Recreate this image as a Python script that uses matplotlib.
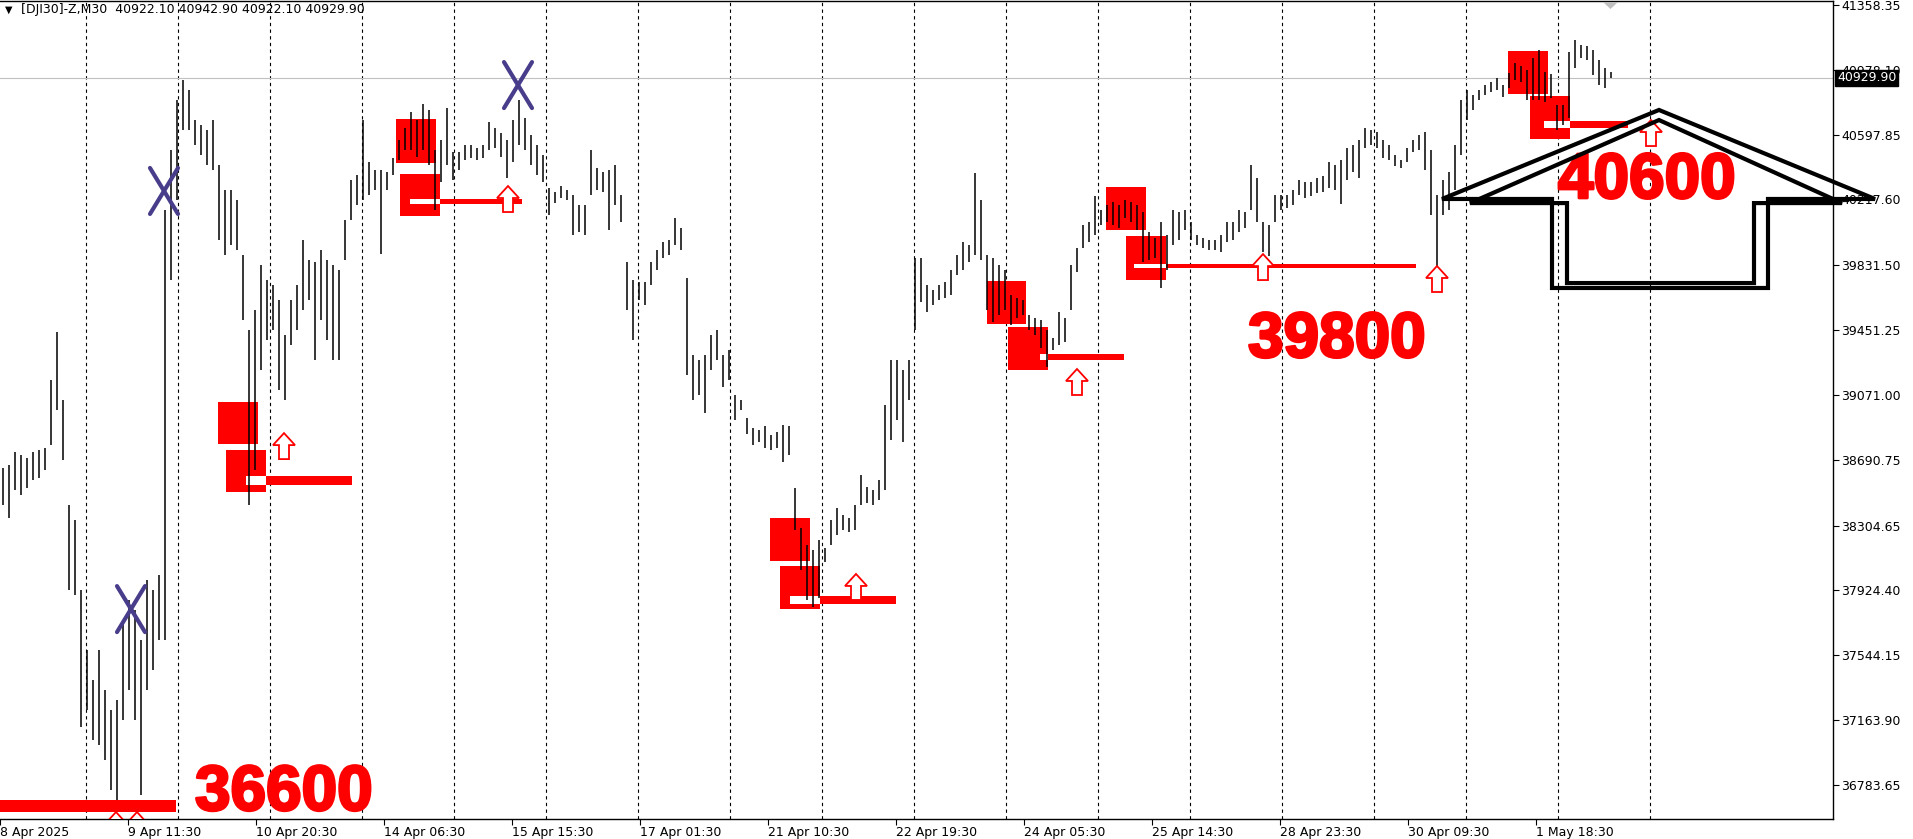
import matplotlib
matplotlib.use("Agg")
import matplotlib.pyplot as plt
import matplotlib.patheffects as pe
import matplotlib.transforms as mtransforms
from matplotlib.patches import Rectangle, Polygon

W, H, DPI = 1913, 839, 100

# DJI30 M30 bars, grouped by 3 (high / low per group)
highs = [38642, 38660, 38736, 38719, 38701, 38736, 38748, 38760, 39158, 39440,
         39041, 38426, 38337, 37927, 37575, 37399, 37575, 37340, 37223, 37282,
         37751, 37868, 37810, 37634, 37985, 37927, 38015, 40155, 40507, 40800,
         40918, 40859, 40683, 40654, 40625, 40683, 40419, 40273, 40273, 40214,
         39891, 39452, 39569, 39833, 39745, 39716, 39628, 39422, 39628, 39716,
         39979, 39862, 39850, 39921, 39862, 39833, 39803, 40097, 40331, 40361,
         40683, 40437, 40390, 40390, 40378, 40460, 40566, 40636, 40730, 40683,
         40777, 40742, 40507, 40566, 40754, 40496, 40496, 40537, 40537, 40519,
         40537, 40671, 40636, 40607, 40566, 40683, 40800, 40695, 40595, 40537,
         40478, 40284, 40261, 40296, 40273, 40243, 40185, 40185, 40507, 40402,
         40378, 40390, 40419, 40243, 39850, 39745, 39733, 39733, 39850, 39921,
         39968, 39979, 40108, 40050, 39757, 39305, 39276, 39305, 39422, 39452,
         39305, 39334, 39070, 39041, 38935, 38877, 38865, 38889, 38836, 38853,
         38894, 38889, 38525, 38290, 38191, 38161, 38220, 38173, 38337, 38408,
         38367, 38349, 38426, 38601, 38531, 38513, 38572, 39012, 39276, 39276,
         39217, 39276, 39874, 39874, 39716, 39686, 39716, 39733, 39803, 39891,
         39968, 39950, 40372, 40214, 39891, 39874, 39833, 39803, 39657, 39639,
         39628, 39540, 39522, 39510, 39452, 39405, 39557, 39522, 39833, 39932,
         40067, 40085, 40237, 40155, 40185, 40202, 40185, 40214, 40202, 40185,
         40144, 40026, 39991, 40085, 40009, 40155, 40144, 40155, 40085, 40009,
         39991, 39979, 39979, 40009, 40085, 40085, 40155, 40144, 40419, 40343,
         40085, 40067, 40243, 40243, 40243, 40273, 40331, 40320, 40320, 40343,
         40355, 40437, 40419, 40449, 40519, 40537, 40566, 40636, 40625, 40613,
         40566, 40537, 40478, 40449, 40519, 40566, 40595, 40613, 40507, 40243,
         40331, 40378, 40537, 40800, 40859, 40830, 40859, 40888, 40906, 40930,
         40888, 40959, 41018, 41000, 40976, 41047, 41094, 40965, 40953, 40771,
         40771, 41082, 41152, 41123, 41117, 41094, 41035, 40988, 40965]
lows = [38426, 38349, 38513, 38484, 38525, 38572, 38584, 38631, 38777, 38982,
        38689, 37927, 37898, 37123, 37223, 37047, 37018, 36930, 36754, 36695,
        37164, 37340, 37164, 36724, 37340, 37458, 37634, 37634, 39745, 40214,
        40625, 40625, 40537, 40478, 40419, 40390, 39979, 39891, 39950, 39921,
        39510, 38426, 38631, 39217, 39393, 39452, 39100, 39041, 39364, 39452,
        39569, 39628, 39276, 39510, 39393, 39276, 39276, 39862, 40097, 40185,
        40214, 40243, 40273, 39897, 40273, 40361, 40449, 40507, 40507, 40466,
        40507, 40419, 40155, 40320, 40419, 40331, 40390, 40449, 40460, 40449,
        40460, 40507, 40519, 40466, 40343, 40437, 40537, 40507, 40419, 40361,
        40320, 40126, 40196, 40226, 40214, 40009, 40026, 40009, 40243, 40273,
        40261, 40038, 40185, 40085, 39569, 39393, 39628, 39598, 39716, 39803,
        39874, 39891, 39950, 39921, 39188, 39041, 39070, 38965, 39217, 39276,
        39117, 39158, 38924, 38982, 38842, 38777, 38795, 38760, 38748, 38760,
        38677, 38719, 38279, 38044, 37868, 37827, 37880, 38091, 38191, 38249,
        38279, 38267, 38279, 38426, 38437, 38426, 38455, 38513, 38806, 38924,
        38795, 39041, 39452, 39616, 39557, 39598, 39628, 39639, 39657, 39774,
        39803, 39850, 39891, 39862, 39569, 39499, 39540, 39569, 39481, 39522,
        39540, 39452, 39422, 39346, 39235, 39334, 39364, 39381, 39569, 39792,
        39932, 39968, 40009, 40067, 40085, 40067, 40050, 40108, 40085, 40038,
        39850, 39862, 39874, 39698, 39803, 39950, 39979, 40038, 39979, 39950,
        39932, 39921, 39921, 39909, 39968, 39979, 40026, 40050, 40155, 40085,
        39909, 39886, 40085, 40155, 40167, 40185, 40243, 40226, 40237, 40255,
        40261, 40284, 40273, 40191, 40331, 40378, 40343, 40519, 40537, 40519,
        40460, 40449, 40413, 40402, 40437, 40496, 40507, 40390, 40126, 39733,
        40126, 40155, 40273, 40478, 40683, 40742, 40800, 40830, 40847, 40859,
        40818, 40871, 40918, 40906, 40800, 40800, 40800, 40789, 40812, 40625,
        40654, 40695, 40988, 41047, 41035, 40947, 40888, 40871, 40930]
last_price = 40929.90

# x axis is in M30 bar slots
time_labels = ["8 Apr 2025", "9 Apr 11:30", "10 Apr 20:30", "14 Apr 06:30", "15 Apr 15:30",
               "17 Apr 01:30", "21 Apr 10:30", "22 Apr 19:30", "24 Apr 05:30", "25 Apr 14:30",
               "28 Apr 23:30", "30 Apr 09:30", "1 May 18:30"]
time_pos = [0, 64, 128, 192, 256, 320, 384, 448, 512, 576, 640, 704, 768]
day_seps = [43.2, 89.2, 135.2, 181.2, 227.2, 273.2, 319.2, 365.2, 411.2,
            457.2, 503.2, 549.2, 595.2, 641.2, 687.2, 733.2, 779.2, 825.2]
price_ticks = [41358.35, 40978.10, 40597.85, 40217.60, 39831.50, 39451.25, 39071.00,
               38690.75, 38304.65, 37924.40, 37544.15, 37163.90, 36783.65]

# supply/demand boxes: x0, x1, top, bottom
zone_x0 = [109, 113, 198, 200, 385, 390, 493.5, 504, 553, 563, 754, 765]
zone_x1 = [129, 133, 218, 220, 405, 410, 513, 524, 573, 583, 774, 785]
zone_top = [39029, 38748, 40689, 40366, 38349, 38067, 39739, 39469, 40290, 40003, 41088, 40824]
zone_bot = [38783, 38501, 40431, 40120, 38097, 37815, 39487, 39217, 40038, 39745, 40836, 40572]

# level lines: start, end of white part, end, top, bottom
lvl_start = [123, 205, 395, 520, 567, 772, 0]
lvl_split = [133, 220, 410, 524, 583, 785, 0]
lvl_end = [176, 261, 448, 562, 708, 814, 88]
lvl_top = [38595, 40222, 37891, 39311, 39839, 40677, 36695]
lvl_bot = [38543, 40191, 37845, 39276, 39815, 40636, 36625]

arrow_x = [142, 254, 428, 538.5, 631.5, 718.5, 825.5, 58, 68.5]
arrow_top = [38847, 40296, 38021, 39223, 39897, 39827, 40683, 36625, 36625]

cross_x = [82, 65.5, 259]
cross_y = [40267, 37815, 40888]

big_text = ["36600", "39800", "40600"]
big_text_x = [97.5, 624, 779]
big_text_y = [36636, 39293, 40226]

outer_x = [721, 829.5, 937.5, 884, 884, 776, 776]
outer_y = [40220, 40742, 40220, 40220, 39698, 39698, 40220]
inner_x = [735, 829.5, 921, 877, 877, 783.5, 783.5]
inner_y = [40196, 40683, 40196, 40196, 39727, 39727, 40196]

Y_TOP, Y_BOT = 41381, 36584
X_MAX = 916.5
PX_X = 0.5                                   # data x per pixel
PX_Y = (Y_TOP - Y_BOT) / 818.0               # price per pixel

fig = plt.figure(figsize=(W / DPI, H / DPI), dpi=DPI)
ax = fig.add_axes([0, 20 / H, 1833 / W, 818 / H])
ax.set_xlim(0, X_MAX)
ax.set_ylim(Y_BOT, Y_TOP)

for s in ["left"]:
    ax.spines[s].set_visible(False)
for s in ["top", "right", "bottom"]:
    ax.spines[s].set_linewidth(1.0)

# day separators
for s in day_seps:
    ax.axvline(s, color="black", lw=0.8, ls=(0, (3, 3)), zorder=0.5)

ax.axhline(last_price, color="#C0C0C0", lw=0.8, zorder=0.6)

# zones and levels
for x0, x1, t, b in zip(zone_x0, zone_x1, zone_top, zone_bot):
    ax.add_patch(Rectangle((x0, b), x1 - x0, t - b, color="#FF0000", lw=0, zorder=1))
for a, s, e, t, b in zip(lvl_start, lvl_split, lvl_end, lvl_top, lvl_bot):
    if s > a:
        ax.add_patch(Rectangle((a, b), s - a, t - b, color="white", lw=0, zorder=1.1))
    ax.add_patch(Rectangle((s, b), e - s, t - b, color="#FF0000", lw=0, zorder=1.1))

# bars
bar_x = [1.5 + 3 * i for i in range(len(highs))]
ax.vlines(bar_x, lows, highs, color="black", lw=1.1, zorder=2)

# hollow up arrows
dxs = [0, 11, 5, 5, -5, -5, -11]
dys = [0, 12, 12, 26, 26, 12, 12]
for cx, top in zip(arrow_x, arrow_top):
    pts = [(cx + a * PX_X, top - b * PX_Y) for a, b in zip(dxs, dys)]
    ax.add_patch(Polygon(pts, closed=True, fc="white", ec="#FF0000", lw=1.3, zorder=3))

# crosses
for cx, cy in zip(cross_x, cross_y):
    hx, hy = 14 * PX_X, 23 * PX_Y
    ax.plot([cx - hx, cx + hx], [cy + hy, cy - hy], color="#483D8B", lw=3, zorder=4,
            solid_capstyle="round")
    ax.plot([cx - hx, cx + hx], [cy - hy, cy + hy], color="#483D8B", lw=3, zorder=4,
            solid_capstyle="round")

# big level text
for t, x, y in zip(big_text, big_text_x, big_text_y):
    ax.text(x, y, t, color="#FF0000", fontsize=46, fontweight="bold",
            family="Liberation Sans", ha="left", va="baseline", zorder=5,
            path_effects=[pe.withStroke(linewidth=2, foreground="#FF0000")])

# big outlined arrow
ax.add_patch(Polygon(list(zip(outer_x, outer_y)), closed=True, fill=False, ec="black",
                     lw=3, zorder=6, clip_on=False, joinstyle="miter"))
ax.add_patch(Polygon(list(zip(inner_x, inner_y)), closed=True, fill=False, ec="black",
                     lw=3, zorder=6, clip_on=False, joinstyle="miter"))

# axes ticks
ax.yaxis.tick_right()
ax.set_yticks(price_ticks)
ax.set_yticklabels([f"{v:.2f}" for v in price_ticks])
ax.tick_params(axis="y", direction="out", length=4, width=0.8, labelsize=9, pad=2)
ax.set_xticks(time_pos)
ax.set_xticklabels(time_labels)
ax.tick_params(axis="x", direction="out", length=4, width=0.8, labelsize=9, pad=1)
for lbl in ax.get_xticklabels():
    lbl.set_ha("left")

# current price box
tr = mtransforms.blended_transform_factory(ax.transAxes, ax.transData)
ax.text(1 + 4 / 1833, last_price, f"{last_price:.2f}", transform=tr, color="white",
        fontsize=9, ha="left", va="center", clip_on=False, zorder=7,
        bbox=dict(boxstyle="square,pad=0.15", fc="black", ec="black"))

# header
fig.text(5 / W, 1 - 10 / H, "\u25bc", fontsize=7, va="center", ha="left")
fig.text(21 / W, 1 - 10 / H, "[DJI30]-Z,M30  40922.10 40942.90 40922.10 40929.90",
         fontsize=9, va="center", ha="left")

# chart shift marker
fig.patches.append(Polygon([(1603 / W, 1 - 2 / H), (1618 / W, 1 - 2 / H), (1610.5 / W, 1 - 9 / H)],
                           closed=True, transform=fig.transFigure, fc="#C0C0C0", ec="none"))

fig.savefig("out.png", dpi=DPI)
